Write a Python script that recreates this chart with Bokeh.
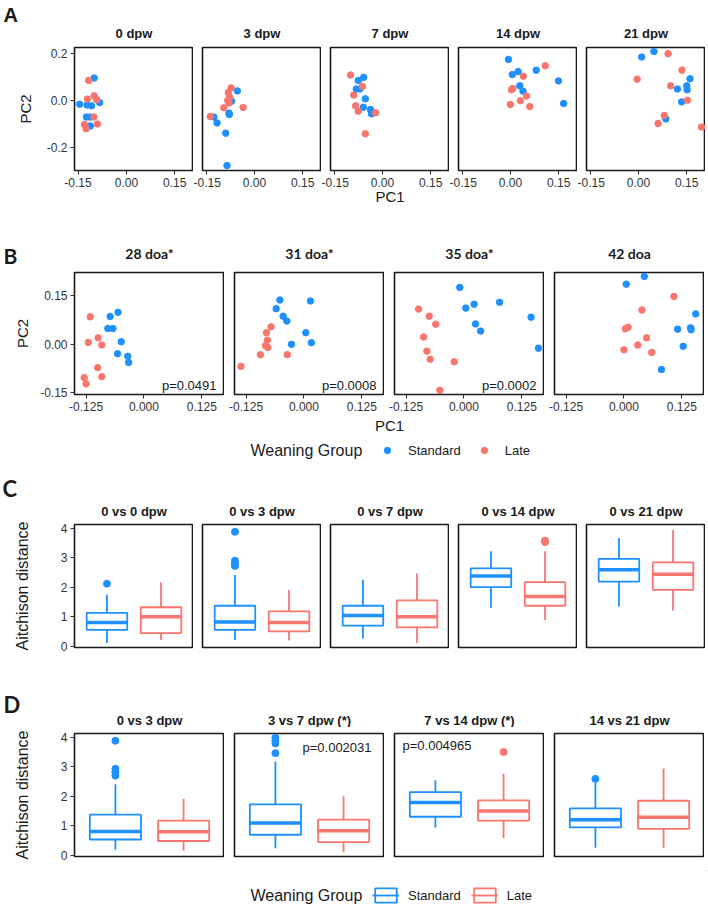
from bokeh.plotting import figure
from bokeh.layouts import column, row
from bokeh.models import (Range1d, FixedTicker, Label, Legend, LegendItem,
                          ColumnDataSource, NumeralTickFormatter)
from bokeh.embed import file_html
from bokeh.resources import INLINE

# ---------------- data: panel A (PCA, days post weaning) ----------------
A_titles = ["0 dpw", "3 dpw", "7 dpw", "14 dpw", "21 dpw"]
A_xticks = [-0.15, 0.0, 0.15]
A_yticks = [-0.2, 0.0, 0.2]

A0_std_x = [-0.100, -0.145, -0.122, -0.108, -0.083, -0.124, -0.112, -0.112]
A0_std_y = [0.096, -0.016, -0.019, -0.023, -0.009, -0.071, -0.071, -0.109]
A0_late_x = [-0.117, -0.121, -0.100, -0.092, -0.101, -0.130, -0.125, -0.090]
A0_late_y = [0.086, 0.006, 0.020, 0.003, -0.071, -0.103, -0.121, -0.101]

A3_std_x = [-0.053, -0.071, -0.079, -0.078, -0.126, -0.116, -0.089, -0.085]
A3_std_y = [0.041, -0.003, -0.054, -0.060, -0.071, -0.096, -0.140, -0.279]
A3_late_x = [-0.072, -0.081, -0.077, -0.083, -0.079, -0.095, -0.035, -0.137]
A3_late_y = [0.054, 0.034, 0.014, 0.000, -0.011, -0.031, -0.030, -0.069]

A7_std_x = [-0.058, -0.075, -0.081, -0.070, -0.053, -0.059, -0.037, -0.034]
A7_std_y = [0.099, 0.086, 0.049, 0.049, 0.007, -0.029, -0.039, -0.057]
A7_late_x = [-0.099, -0.089, -0.083, -0.075, -0.062, -0.021, -0.053]
A7_late_y = [0.109, 0.023, -0.023, -0.046, 0.060, -0.053, -0.143]

A14_std_x = [-0.006, 0.006, 0.024, 0.080, 0.149, 0.029, 0.039, 0.165]
A14_std_y = [0.176, 0.111, 0.124, 0.130, 0.084, 0.063, 0.040, -0.013]
A14_late_x = [0.108, 0.040, 0.007, 0.003, 0.050, 0.031, 0.000, 0.060]
A14_late_y = [0.149, 0.104, 0.051, 0.046, 0.019, -0.001, -0.017, -0.026]

A21_std_x = [0.048, 0.010, 0.160, 0.150, 0.151, 0.121, 0.134, 0.085]
A21_std_y = [0.210, 0.186, 0.093, 0.063, 0.046, 0.049, -0.006, -0.079]
A21_late_x = [0.092, 0.135, -0.004, 0.100, 0.152, 0.080, 0.061, 0.196]
A21_late_y = [0.200, 0.130, 0.091, 0.063, 0.001, -0.064, -0.099, -0.114]

# ---------------- data: panel B (PCA, days of age) ----------------
B_titles = ["28 doa*", "31 doa*", "35 doa*", "42 doa"]
B_pvals = ["p=0.0491", "p=0.0008", "p=0.0002", ""]
B_xticks = [-0.125, 0.0, 0.125]
B_yticks = [-0.15, 0.0, 0.15]

B28_std_x = [-0.056, -0.073, -0.078, -0.067, -0.049, -0.057, -0.035, -0.033]
B28_std_y = [0.098, 0.085, 0.048, 0.048, 0.007, -0.030, -0.038, -0.057]
B28_late_x = [-0.116, -0.120, -0.099, -0.091, -0.100, -0.129, -0.125, -0.091]
B28_late_y = [0.084, 0.005, 0.019, -0.003, -0.073, -0.104, -0.123, -0.101]

B31_std_x = [-0.052, 0.014, -0.060, -0.045, -0.037, 0.004, -0.027, 0.016]
B31_std_y = [0.136, 0.133, 0.109, 0.086, 0.071, 0.035, -0.001, 0.004]
B31_late_x = [-0.071, -0.081, -0.079, -0.083, -0.078, -0.094, -0.036, -0.136]
B31_late_y = [0.053, 0.035, 0.012, -0.005, -0.011, -0.033, -0.033, -0.069]

B35_std_x = [-0.009, 0.022, 0.077, 0.004, 0.145, 0.025, 0.036, 0.161]
B35_std_y = [0.175, 0.123, 0.129, 0.111, 0.083, 0.062, 0.040, -0.013]
B35_late_x = [-0.098, -0.075, -0.061, -0.087, -0.080, -0.073, -0.021, -0.052]
B35_late_y = [0.108, 0.086, 0.061, 0.022, -0.022, -0.047, -0.055, -0.143]

B42_std_x = [0.044, 0.005, 0.155, 0.144, 0.116, 0.145, 0.128, 0.081]
B42_std_y = [0.209, 0.185, 0.093, 0.050, 0.046, 0.044, -0.007, -0.079]
B42_late_x = [0.108, 0.039, 0.009, 0.003, 0.049, 0.030, 0.000, 0.060]
B42_late_y = [0.147, 0.105, 0.052, 0.047, 0.019, -0.003, -0.018, -0.026]

# ---------------- data: panel C (Aitchison distance boxplots) ----------------
groups = ["Standard", "Late"]
box_yticks = [0, 1, 2, 3, 4]

C_titles = ["0 vs 0 dpw", "0 vs 3 dpw", "0 vs 7 dpw", "0 vs 14 dpw", "0 vs 21 dpw"]
C_std_lo = [0.11, 0.21, 0.25, 1.30, 1.34]
C_std_q1 = [0.55, 0.55, 0.70, 2.00, 2.19]
C_std_med = [0.80, 0.82, 1.04, 2.38, 2.59]
C_std_q3 = [1.13, 1.37, 1.37, 2.64, 2.96]
C_std_hi = [1.74, 2.41, 2.25, 3.22, 3.67]
C_std_out = [[2.12], [3.88, 2.90, 2.80, 2.72], [], [], []]
C_late_lo = [0.21, 0.19, 0.11, 0.89, 1.21]
C_late_q1 = [0.44, 0.50, 0.64, 1.37, 1.91]
C_late_med = [1.00, 0.80, 1.00, 1.68, 2.44]
C_late_q3 = [1.32, 1.18, 1.55, 2.17, 2.84]
C_late_hi = [2.17, 1.91, 2.46, 3.22, 3.94]
C_late_out = [[], [], [], [3.58, 3.53], []]

# ---------------- data: panel D ----------------
D_titles = ["0 vs 3 dpw", "3 vs 7 dpw (*)", "7 vs 14 dpw (*)", "14 vs 21 dpw"]
D_pvals = ["", "p=0.002031", "p=0.004965", ""]
D_std_lo = [0.19, 0.24, 0.95, 0.26]
D_std_q1 = [0.54, 0.70, 1.31, 0.95]
D_std_med = [0.81, 1.10, 1.79, 1.21]
D_std_q3 = [1.38, 1.73, 2.14, 1.59]
D_std_hi = [2.41, 3.18, 2.54, 2.45]
D_std_out = [[3.88, 2.93, 2.81, 2.70], [3.98, 3.88, 3.79, 3.46], [], [2.59]]
D_late_lo = [0.17, 0.11, 0.59, 0.26]
D_late_q1 = [0.49, 0.45, 1.18, 0.90]
D_late_med = [0.80, 0.84, 1.50, 1.29]
D_late_q3 = [1.18, 1.21, 1.86, 1.85]
D_late_hi = [1.92, 2.00, 2.76, 2.94]
D_late_out = [[], [], [3.50], []]

# ---------------- styling ----------------
STD_COL = "#1E90FF"
LATE_COL = "#F8766D"
FONT = "Liberation Sans"
HFONT = "Lato"
INK = "#1a1a1a"
PAGE_W = 708
LEFT0 = 74          # left border of the first panel in each row


def style_axes(p):
    for ax in p.axis:
        ax.axis_line_color = None
        ax.major_tick_line_color = "#333333"
        ax.major_tick_line_width = 1.1
        ax.major_tick_out = 4
        ax.major_tick_in = 0
        ax.minor_tick_line_color = None
        ax.major_label_text_font = FONT
        ax.major_label_text_font_size = "12px"
        ax.major_label_text_color = "#333333"
        ax.major_label_standoff = 3
        ax.axis_label_text_font = FONT
        ax.axis_label_text_font_style = "normal"
        ax.axis_label_text_color = INK


def blank_fig(width, height):
    p = figure(width=width, height=height, x_range=Range1d(0, 1), y_range=Range1d(0, 1),
               x_axis_location=None, y_axis_location=None, title_location=None,
               toolbar_location=None, output_backend="svg",
               min_border_left=0, min_border_right=0, min_border_top=0, min_border_bottom=0)
    p.grid.visible = False
    p.outline_line_color = None
    p.background_fill_color = "white"
    p.border_fill_color = "white"
    return p


def make_panel(fw, fh, xr, yr, left, top, bottom, show_x, show_y):
    p = figure(frame_width=fw, frame_height=fh,
               x_range=Range1d(*xr), y_range=Range1d(*yr),
               x_axis_location="below" if show_x else None,
               y_axis_location="left" if show_y else None,
               title_location=None, toolbar_location=None, output_backend="svg",
               min_border_left=left, min_border_right=0,
               min_border_top=top, min_border_bottom=bottom)
    p.grid.visible = False
    p.outline_line_color = INK
    p.outline_line_width = 1.6
    p.background_fill_color = "white"
    p.border_fill_color = "white"
    style_axes(p)
    return p


def add_text(p, text, x, y, size, font=FONT, bold=False, align="center"):
    p.add_layout(Label(x=x, y=y, x_units="screen", y_units="screen", text=text,
                       text_align=align, text_baseline="middle", text_font=font,
                       text_font_size=size,
                       text_font_style="bold" if bold else "normal",
                       text_color=INK))


def header_fig(height, letter, letter_x, letter_y, letter_font, letter_size,
               titles, fw, gap, title_y, title_font, title_size):
    """Strip above a row of panels: panel letter and facet titles."""
    p = blank_fig(PAGE_W, height)
    add_text(p, letter, letter_x, height - letter_y, letter_size, font=letter_font,
             bold=True, align="left")
    for i, t in enumerate(titles):
        cx = LEFT0 + i * (fw + gap) + fw / 2
        add_text(p, t, cx, height - title_y, title_size, font=title_font, bold=True)
    return p


def draw_boxes(p, stats):
    for gi, (col, lo, q1, med, q3, hi, outs) in enumerate(stats):
        x = gi + 1
        p.segment(x0=[x, x], y0=[q3, q1], x1=[x, x], y1=[hi, lo],
                  line_color=col, line_width=1.8)
        p.vbar(x=[x], width=0.75, bottom=[q1], top=[q3], fill_color="white",
               line_color=col, line_width=1.8)
        p.segment(x0=[x - 0.375], x1=[x + 0.375], y0=[med], y1=[med],
                  line_color=col, line_width=3.5)
        if outs:
            p.scatter([x] * len(outs), outs, size=7, color=col)


# ---------------- row A ----------------
A_std_x = [A0_std_x, A3_std_x, A7_std_x, A14_std_x, A21_std_x]
A_std_y = [A0_std_y, A3_std_y, A7_std_y, A14_std_y, A21_std_y]
A_late_x = [A0_late_x, A3_late_x, A7_late_x, A14_late_x, A21_late_x]
A_late_y = [A0_late_y, A3_late_y, A7_late_y, A14_late_y, A21_late_y]

A_FW, A_FH, A_GAP = 119, 123, 9
headA = header_fig(40, "A", 3, 14, FONT, "20px", A_titles, A_FW, A_GAP, 33, FONT, "13px")
rowA = []
for i, t in enumerate(A_titles):
    first = i == 0
    p = make_panel(A_FW, A_FH, (-0.161, 0.208), (-0.300, 0.227),
                   LEFT0 if first else A_GAP, 7, 50, True, first)
    p.xaxis.ticker = FixedTicker(ticks=A_xticks)
    p.xaxis.formatter = NumeralTickFormatter(format="0.00")
    if first:
        p.yaxis.ticker = FixedTicker(ticks=A_yticks)
        p.yaxis.formatter = NumeralTickFormatter(format="0.0")
        p.yaxis.axis_label = "PC2"
        p.yaxis.axis_label_text_font_size = "15px"
        p.yaxis.axis_label_standoff = 10
    if i == 2:
        p.xaxis.axis_label = "PC1"
        p.xaxis.axis_label_text_font_size = "15px"
        p.xaxis.axis_label_standoff = -2
    p.scatter(A_std_x[i], A_std_y[i], size=6.5, color=STD_COL)
    p.scatter(A_late_x[i], A_late_y[i], size=6.5, color=LATE_COL)
    rowA.append(p)

# ---------------- row B ----------------
B_std_x = [B28_std_x, B31_std_x, B35_std_x, B42_std_x]
B_std_y = [B28_std_y, B31_std_y, B35_std_y, B42_std_y]
B_late_x = [B28_late_x, B31_late_x, B35_late_x, B42_late_x]
B_late_y = [B28_late_y, B31_late_y, B35_late_y, B42_late_y]

B_FW, B_FH, B_GAP = 150, 122, 10
headB = header_fig(50, "B", 3, 35, HFONT, "21px", B_titles, B_FW, B_GAP, 33, HFONT, "14px")
rowB = []
for i, t in enumerate(B_titles):
    first = i == 0
    p = make_panel(B_FW, B_FH, (-0.150, 0.174), (-0.156, 0.221),
                   LEFT0 if first else B_GAP, 2, 24, True, first)
    p.xaxis.ticker = FixedTicker(ticks=B_xticks)
    p.xaxis.formatter = NumeralTickFormatter(format="0.000")
    if first:
        p.yaxis.ticker = FixedTicker(ticks=B_yticks)
        p.yaxis.formatter = NumeralTickFormatter(format="0.00")
        p.yaxis.axis_label = "PC2"
        p.yaxis.axis_label_text_font_size = "15px"
        p.yaxis.axis_label_standoff = 6
    p.scatter(B_std_x[i], B_std_y[i], size=6.5, color=STD_COL)
    p.scatter(B_late_x[i], B_late_y[i], size=6.5, color=LATE_COL)
    if B_pvals[i]:
        add_text(p, B_pvals[i], B_FW - 8, 9, "13px", align="right")
    rowB.append(p)


def caption_fig(height, kind, text_y, legend_y, pc1_y=None):
    p = blank_fig(PAGE_W, height)
    if pc1_y is not None:
        add_text(p, "PC1", 389, pc1_y, "15px")
    add_text(p, "Weaning Group", 250, text_y, "16px", align="left")
    items = []
    for g, col in zip(groups, [STD_COL, LATE_COL]):
        # legend proxies: one point kept outside the visible range
        src = ColumnDataSource(data=dict(x=[5], y=[5], top=[6], bottom=[5], x1=[6]))
        if kind == "point":
            r = p.scatter(x="x", y="y", source=src, color=col)
            items.append(LegendItem(label=g, renderers=[r]))
        else:
            rb = p.vbar(x="x", width=0.5, top="top", bottom="bottom", source=src,
                        fill_color="white", line_color=col, line_width=1.8)
            rm = p.segment(x0="x", x1="x1", y0="y", y1="y", source=src,
                           line_color=col, line_width=1.8)
            items.append(LegendItem(label=g, renderers=[rb, rm]))
    if kind == "point":
        leg = Legend(items=items, location=(377, legend_y - 8), orientation="horizontal",
                     glyph_width=20, glyph_height=16, label_height=16,
                     label_standoff=11, spacing=13)
    else:
        leg = Legend(items=items, location=(372, legend_y - 9), orientation="horizontal",
                     glyph_width=27, glyph_height=18, label_height=18,
                     label_standoff=9, spacing=10)
    leg.padding = 0
    leg.margin = 0
    leg.border_line_color = None
    leg.background_fill_alpha = 0
    leg.label_text_font = FONT
    leg.label_text_font_size = "13px"
    leg.label_text_color = INK
    p.add_layout(leg)
    return p


capB = caption_fig(45, "point", 13, 13, pc1_y=38)

# ---------------- row C ----------------
C_FW, C_FH, C_GAP = 119, 123, 9
headC = header_fig(56, "C", 2, 25, HFONT, "22px", C_titles, C_FW, C_GAP, 48, FONT, "13px")
rowC = []
for i, t in enumerate(C_titles):
    first = i == 0
    p = make_panel(C_FW, C_FH, (0.4, 2.6), (-0.045, 4.125),
                   LEFT0 if first else C_GAP, 5, 10, False, first)
    if first:
        p.yaxis.ticker = FixedTicker(ticks=box_yticks)
        p.yaxis.axis_label = "Aitchison distance"
        p.yaxis.axis_label_text_font_size = "16px"
        p.yaxis.axis_label_standoff = 27
    draw_boxes(p, [
        (STD_COL, C_std_lo[i], C_std_q1[i], C_std_med[i], C_std_q3[i], C_std_hi[i], C_std_out[i]),
        (LATE_COL, C_late_lo[i], C_late_q1[i], C_late_med[i], C_late_q3[i], C_late_hi[i], C_late_out[i]),
    ])
    rowC.append(p)

# ---------------- row D ----------------
D_pval_pos = [None, (68, 109), (8, 111), None]
D_FW, D_FH, D_GAP = 150, 123, 10
headD = header_fig(70, "D", 3, 47, HFONT, "22px", D_titles, D_FW, D_GAP, 63, FONT, "13px")
rowD = []
for i, t in enumerate(D_titles):
    first = i == 0
    p = make_panel(D_FW, D_FH, (0.4, 2.6), (-0.035, 4.125),
                   LEFT0 if first else D_GAP, 6, 14, False, first)
    if first:
        p.yaxis.ticker = FixedTicker(ticks=box_yticks)
        p.yaxis.axis_label = "Aitchison distance"
        p.yaxis.axis_label_text_font_size = "16px"
        p.yaxis.axis_label_standoff = 27
    draw_boxes(p, [
        (STD_COL, D_std_lo[i], D_std_q1[i], D_std_med[i], D_std_q3[i], D_std_hi[i], D_std_out[i]),
        (LATE_COL, D_late_lo[i], D_late_q1[i], D_late_med[i], D_late_q3[i], D_late_hi[i], D_late_out[i]),
    ])
    if D_pvals[i]:
        px, py = D_pval_pos[i]
        add_text(p, D_pvals[i], px, py, "13px", align="left")
    rowD.append(p)

capD = caption_fig(36, "box", 11, 11)

layout = column(headA, row(*rowA), headB, row(*rowB), capB,
                headC, row(*rowC), headD, row(*rowD), capD)

open("out.html", "w").write(file_html(layout, INLINE))
